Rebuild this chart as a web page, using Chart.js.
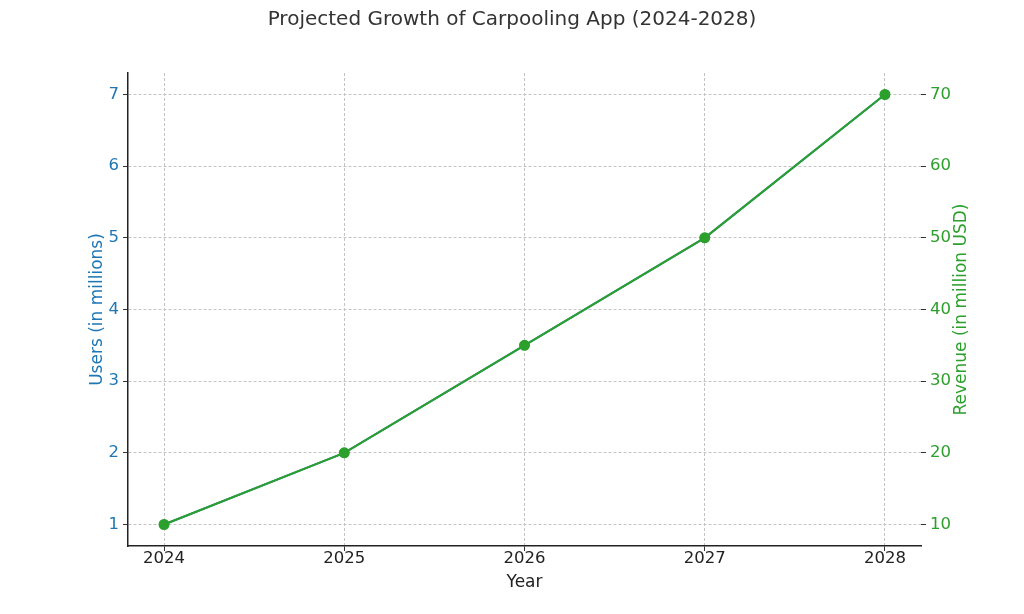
<!DOCTYPE html>
<html>
<head>
<meta charset="utf-8">
<script src="https://cdn.jsdelivr.net/npm/chart.js@4"></script>
<style>
  html, body { margin: 0; padding: 0; background: #fff; }
  #wrap { width: 1024px; height: 614px; }
</style>
</head>
<body>
<div id="wrap"><canvas id="chart-js" width="1024" height="614"></canvas></div>
<script>
const years = [2024, 2025, 2026, 2027, 2028];
const users = [1, 2, 3.5, 5, 7];
const revenue = [10, 20, 35, 50, 70];
const userTicks = [1, 2, 3, 4, 5, 6, 7];
const revenueTicks = [10, 20, 30, 40, 50, 60, 70];
const rightTitle = 'Revenue (in million USD)';

const blue = '#1f77b4';
const green = '#2ca02c';
const gridColor = '#c4c4c4';
const font = "'DejaVu Sans', sans-serif";

// right axis title reads bottom-to-top like the left one
const rightTitlePlugin = {
    id: 'rightTitle',
    afterDraw(chart) {
        const c = chart.ctx;
        const area = chart.chartArea;
        c.save();
        c.translate(962, (area.top + area.bottom) / 2);
        c.rotate(-Math.PI / 2);
        c.font = `17px ${font}`;
        c.fillStyle = green;
        c.textAlign = 'center';
        c.textBaseline = 'middle';
        c.fillText(rightTitle, 0, 0);
        c.restore();
    }
};

const ctx = document.getElementById('chart-js');
const chart = new Chart(ctx, {
    type: 'line',
    data: {
        datasets: [
            {
                label: 'Revenue',
                data: years.map((y, i) => ({ x: y, y: revenue[i] })),
                borderColor: green,
                backgroundColor: green,
                borderWidth: 2,
                pointRadius: 4.5,
                yAxisID: 'y1',
                order: 0
            },
            {
                label: 'Users',
                data: years.map((y, i) => ({ x: y, y: users[i] })),
                borderColor: blue,
                backgroundColor: blue,
                borderWidth: 2,
                pointRadius: 4,
                yAxisID: 'y',
                order: 1
            }
        ]
    },
    options: {
        responsive: false,
        animation: false,
        layout: { padding: 0 },
        plugins: {
            legend: { display: false },
            tooltip: { enabled: false },
            title: {
                display: true,
                text: 'Projected Growth of Carpooling App (2024-2028)',
                color: '#333',
                font: { family: font, size: 20, weight: 'normal' },
                padding: { top: 8, bottom: 41 }
            }
        },
        scales: {
            x: {
                type: 'linear',
                min: 2023.8,
                max: 2028.2,
                afterBuildTicks: s => { s.ticks = years.map(v => ({ value: v })); },
                afterFit: s => { s.height = 68; },
                ticks: {
                    color: '#222',
                    font: { family: font, size: 16.5 },
                    padding: -2,
                    callback: v => String(v)
                },
                grid: {
                    color: gridColor,
                    tickLength: 5,
                    tickColor: '#333'
                },
                border: { display: true, color: '#222', width: 1.5, dash: [3, 2] },
                title: {
                    display: true,
                    text: 'Year',
                    color: '#222',
                    font: { family: font, size: 17 },
                    padding: { top: 0, bottom: 21 }
                }
            },
            y: {
                position: 'left',
                min: 0.7,
                max: 7.3,
                afterBuildTicks: s => { s.ticks = userTicks.map(v => ({ value: v })); },
                afterFit: s => { s.width = 128; },
                ticks: {
                    color: blue,
                    font: { family: font, size: 16.5 },
                    padding: 4
                },
                grid: {
                    color: gridColor,
                    tickLength: 5,
                    tickColor: '#333'
                },
                border: { display: true, color: '#222', width: 1.5, dash: [3, 2] },
                title: {
                    display: true,
                    text: 'Users (in millions)',
                    color: blue,
                    font: { family: font, size: 17 },
                    padding: { top: 87, bottom: 0 }
                }
            },
            y1: {
                position: 'right',
                min: 7,
                max: 73,
                afterBuildTicks: s => { s.ticks = revenueTicks.map(v => ({ value: v })); },
                afterFit: s => { s.width = 103; },
                ticks: {
                    color: green,
                    font: { family: font, size: 16.5 },
                    padding: 4
                },
                grid: {
                    drawOnChartArea: false,
                    tickLength: 5,
                    tickColor: '#333'
                },
                border: { display: false }
            }
        }
    },
    plugins: [rightTitlePlugin]
});
</script>
</body>
</html>
